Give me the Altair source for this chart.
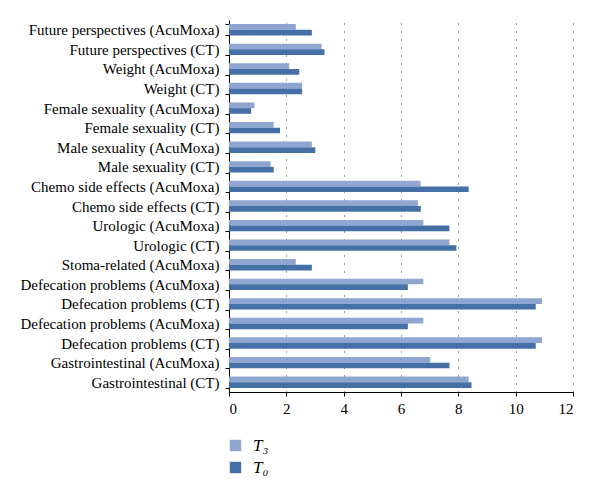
import altair as alt
import pandas as pd

categories = [
    "Future perspectives (AcuMoxa)",
    "Future perspectives (CT)",
    "Weight (AcuMoxa)",
    "Weight (CT)",
    "Female sexuality (AcuMoxa)",
    "Female sexuality (CT)",
    "Male sexuality (AcuMoxa)",
    "Male sexuality (CT)",
    "Chemo side effects (AcuMoxa)",
    "Chemo side effects (CT)",
    "Urologic (AcuMoxa)",
    "Urologic (CT)",
    "Stoma-related (AcuMoxa)",
    "Defecation problems (AcuMoxa)",
    "Defecation problems (CT)",
    "Defecation problems (AcuMoxa)\u200b",
    "Defecation problems (CT)\u200b",
    "Gastrointestinal (AcuMoxa)",
    "Gastrointestinal (CT)",
]
t3_values = [2.33, 3.23, 2.10, 2.55, 0.89, 1.56, 2.89, 1.45, 6.68, 6.59,
             6.78, 7.69, 2.33, 6.78, 10.92, 6.78, 10.92, 7.02, 8.36]
t0_values = [2.89, 3.33, 2.45, 2.55, 0.77, 1.78, 3.01, 1.56, 8.36, 6.69,
             7.69, 7.93, 2.89, 6.24, 10.70, 6.24, 10.70, 7.69, 8.46]
series = ["T\u2083", "T\u2080"]
colors = ["#8fa6d1", "#4470a7"]
x_ticks = [0, 2, 4, 6, 8, 10, 12]

rows = []
for c, a, b in zip(categories, t3_values, t0_values):
    rows.append({"cat": c, "series": series[0], "value": a})
    rows.append({"cat": c, "series": series[1], "value": b})
df = pd.DataFrame(rows)

font = "Liberation Serif"

chart = alt.Chart(df).mark_bar().encode(
    y=alt.Y("cat:N", sort=categories, title=None,
            scale=alt.Scale(paddingInner=0.42, paddingOuter=0.21),
            axis=alt.Axis(tickBand="extent", domainColor="#000", tickColor="#000",
                          tickSize=4, labelFontSize=15, labelFont=font,
                          labelColor="#000", labelPadding=6, grid=False,
                          labelLimit=300)),
    x=alt.X("value:Q", title=None,
            scale=alt.Scale(domain=[0, 12], nice=False),
            axis=alt.Axis(values=x_ticks, domainColor="#000", tickColor="#000",
                          tickSize=4, labelFontSize=15, labelFont=font,
                          labelColor="#000", labelPadding=5,
                          grid=True, gridColor="#333", gridDash=[1, 7],
                          gridWidth=1)),
    yOffset=alt.YOffset("series:N", sort=series),
    color=alt.Color("series:N", sort=series,
                    scale=alt.Scale(domain=series, range=colors),
                    legend=alt.Legend(title=None, orient="none", legendX=-2, legendY=417,
                                      symbolType="square", symbolSize=130,
                                      symbolStrokeWidth=0, labelOffset=9,
                                      labelFont=font, labelFontSize=17,
                                      labelFontStyle="italic", labelColor="#000",
                                      rowPadding=4)),
).properties(
    width=344, height=372,
    padding={"left": 221, "top": 12, "right": 19, "bottom": 97},
    autosize=alt.AutoSizeParams(type="none"),
).configure_view(stroke=None).configure_axis(gridOpacity=1)

chart.save("out.html", embed_options={"renderer": "svg", "actions": False})
